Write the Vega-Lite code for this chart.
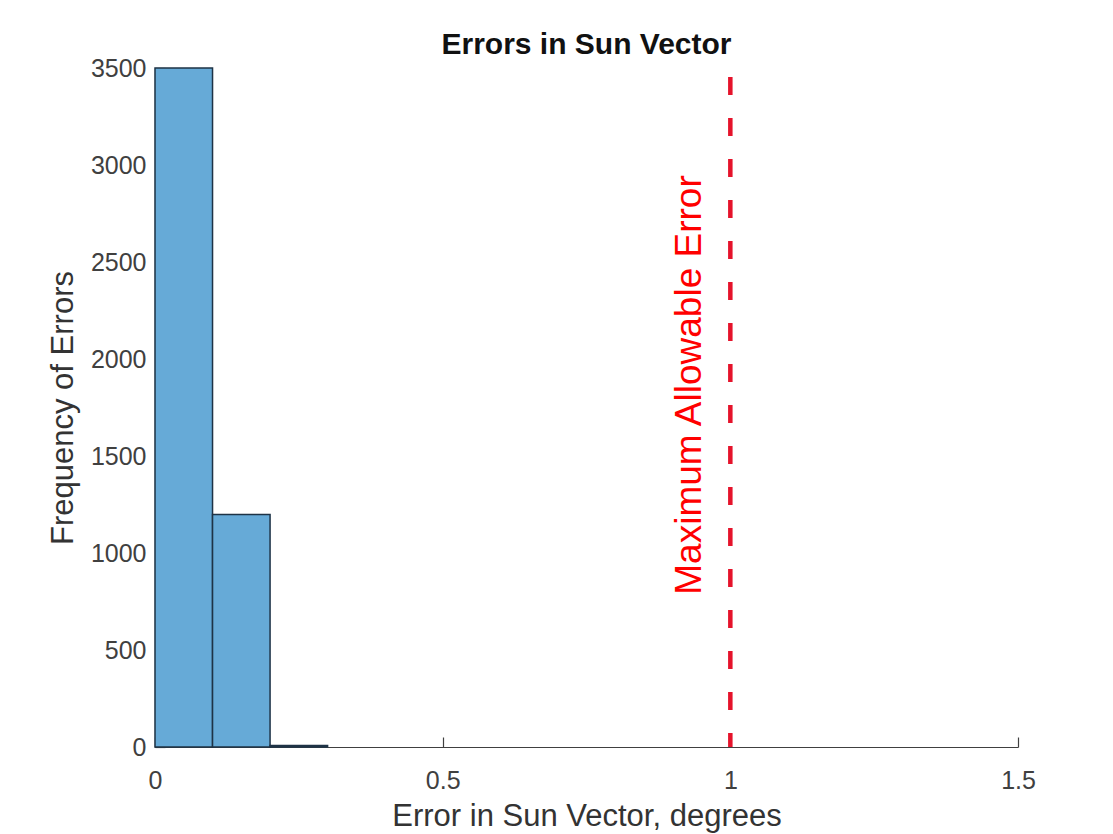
{
  "$schema": "https://vega.github.io/schema/vega-lite/v6.json",
  "width": 863,
  "height": 679,
  "autosize": {"type": "none"},
  "padding": {"left": 155, "top": 68, "right": 95, "bottom": 87},
  "background": "white",
  "title": {
    "text": "Errors in Sun Vector",
    "font": "Liberation Sans",
    "fontSize": 30,
    "fontWeight": "bold",
    "color": "#111111",
    "anchor": "middle",
    "offset": -4
  },
  "config": {
    "view": {"stroke": null},
    "axis": {
      "grid": false,
      "zindex": 1,
      "domainColor": "#404040",
      "domainWidth": 1.2,
      "tickColor": "#404040",
      "tickWidth": 1.2,
      "tickSize": -10,
      "labelColor": "#404040",
      "labelFont": "Liberation Sans",
      "labelFontSize": 25,
      "titleFont": "Liberation Sans",
      "titleFontSize": 31,
      "titleFontWeight": "normal",
      "titleColor": "#333333",
      "labelFlush": false,
      "labelOverlap": false
    }
  },
  "layer": [
    {
      "data": {
        "values": [
          {"bin_start": 0.0, "bin_end": 0.1, "count": 3500},
          {"bin_start": 0.1, "bin_end": 0.2, "count": 1198},
          {"bin_start": 0.2, "bin_end": 0.3, "count": 8}
        ]
      },
      "mark": {"type": "rect", "fill": "#66AAD7", "stroke": "#1e3346", "strokeWidth": 1.5},
      "encoding": {
        "x": {
          "field": "bin_start",
          "type": "quantitative",
          "scale": {"domain": [0, 1.5], "nice": false},
          "axis": {
            "values": [0, 0.5, 1, 1.5],
            "format": "~g",
            "title": "Error in Sun Vector, degrees",
            "labelPadding": 31,
            "titlePadding": 8
          }
        },
        "x2": {"field": "bin_end"},
        "y": {
          "field": "count",
          "type": "quantitative",
          "scale": {"domain": [0, 3500], "nice": false},
          "axis": {
            "values": [0, 500, 1000, 1500, 2000, 2500, 3000, 3500],
            "format": "d",
            "title": "Frequency of Errors",
            "labelPadding": 19,
            "titlePadding": 11
          }
        },
        "y2": {"datum": 0}
      }
    },
    {
      "data": {"values": [{"limit": 1}]},
      "mark": {"type": "rule", "color": "#e5132b", "strokeWidth": 4.5, "strokeDash": [18, 23], "strokeDashOffset": 32},
      "encoding": {
        "x": {"field": "limit", "type": "quantitative"}
      }
    },
    {
      "data": {"values": [{"limit": 1, "label_y": 1866, "label": "Maximum Allowable Error"}]},
      "mark": {
        "type": "text",
        "angle": 270,
        "align": "center",
        "baseline": "middle",
        "dy": -40,
        "font": "Liberation Sans",
        "fontSize": 37,
        "color": "#ff0000"
      },
      "encoding": {
        "x": {"field": "limit", "type": "quantitative"},
        "y": {"field": "label_y", "type": "quantitative"},
        "text": {"field": "label"}
      }
    }
  ]
}
